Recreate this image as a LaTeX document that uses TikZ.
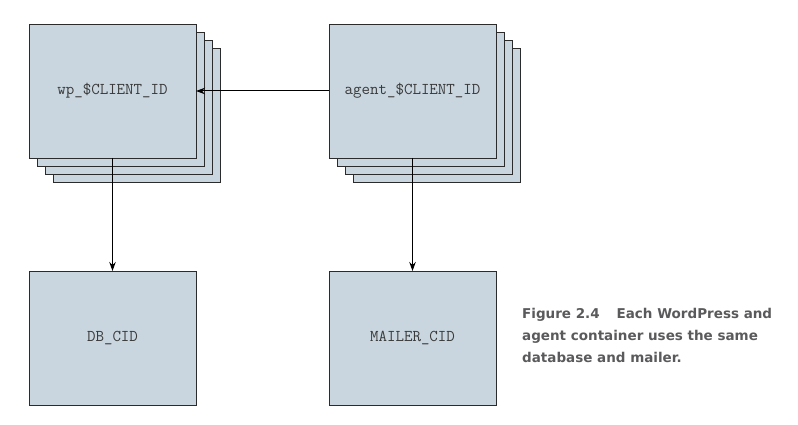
\documentclass[tikz,border=0pt]{standalone}
\usepackage{fontspec}
\setmainfont{DejaVu Sans}
\usetikzlibrary{arrows.meta}
\definecolor{boxfill}{HTML}{C9D6DF}
\definecolor{boxline}{HTML}{2B2B2B}
\definecolor{captiongray}{HTML}{5A5A5C}
\definecolor{textgray}{HTML}{3A3A3A}
\tikzset{
  cbox/.style={draw=boxline, line width=0.9pt, fill=boxfill, minimum width=167pt, minimum height=134pt, inner sep=0pt, outer sep=0pt,
    font=\ttfamily\fontsize{16.5}{18}\selectfont, text=textgray},
  conn/.style={draw=black, line width=1pt, -{Stealth[length=9pt,width=6.5pt]}},
}
\begin{document}
\begin{tikzpicture}[x=1pt,y=-1pt]
\useasboundingbox (0,0) rectangle (798,425);
% wp stack
\node[cbox] (wp3) at (137,115) {};
\node[cbox] (wp2) at (129,107) {};
\node[cbox] (wp1) at (121,99) {};
\node[cbox] (wp) at (112.5,91) {wp\_\$CLIENT\_ID};
% agent stack
\node[cbox] (ag3) at (437,115) {};
\node[cbox] (ag2) at (429,107) {};
\node[cbox] (ag1) at (421,99) {};
\node[cbox] (agent) at (412.5,91) {agent\_\$CLIENT\_ID};
% bottom
\node[cbox] (db) at (112.5,338) {DB\_CID};
\node[cbox] (mailer) at (412.5,338) {MAILER\_CID};
% connectors
\draw[conn] (agent.west) -- (wp.east);
\draw[conn] (wp.south) -- (db.north);
\draw[conn] (agent.south) -- (mailer.north);
% caption
\node[anchor=base west, align=left, inner sep=0pt, text=captiongray, font=\bfseries\fontsize{13.5}{22}\selectfont] (cap) at (522,362)
  {Figure 2.4\hspace{1.25em}Each WordPress and\\agent container uses the same\\database and mailer.};
\end{tikzpicture}
\end{document}
